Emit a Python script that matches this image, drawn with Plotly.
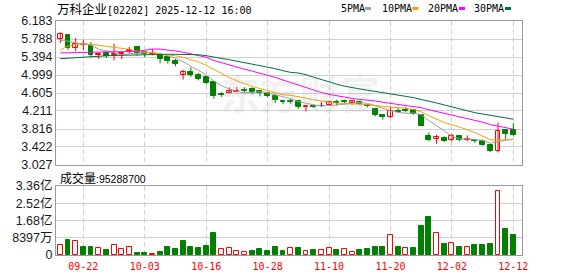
import plotly.graph_objects as go

# ---------------- data ----------------
dates = ["09-17", "09-18", "09-19", "09-22", "09-23", "09-24", "09-25", "09-26", "09-29", "09-30",
         "10-02", "10-03", "10-06", "10-08", "10-09", "10-10", "10-13", "10-14", "10-15", "10-16",
         "10-17", "10-20", "10-21", "10-22", "10-23", "10-24", "10-27", "10-28", "10-30", "10-31",
         "11-03", "11-04", "11-05", "11-06", "11-07", "11-10", "11-11", "11-12", "11-13", "11-14",
         "11-17", "11-18", "11-19", "11-20", "11-21", "11-24", "11-25", "11-26", "11-27", "11-28",
         "12-01", "12-02", "12-03", "12-04", "12-05", "12-08", "12-09", "12-10", "12-11", "12-12"]

opens = [5.795, 5.868, 5.592, 5.65, 5.642, 5.44, 5.48, 5.43, 5.46, 5.52,
         5.61, 5.50, 5.46, 5.44, 5.39, 5.30, 5.006, 5.066, 4.99, 4.947,
         4.838, 4.58, 4.60, 4.62, 4.68, 4.70, 4.64, 4.60, 4.546, 4.42,
         4.44, 4.42, 4.29, 4.33, 4.31, 4.35, 4.41, 4.42, 4.39, 4.40,
         4.35, 4.254, 4.13, 4.08, 4.22, 4.24, 4.24, 4.13, 3.669, 3.60,
         3.62, 3.566, 3.67, 3.566, 3.58, 3.56, 3.472, 3.34, 3.80, 3.785]
closes = [5.899, 5.592, 5.686, 5.67, 5.43, 5.45, 5.41, 5.45, 5.48, 5.55,
          5.48, 5.46, 5.49, 5.36, 5.30, 5.23, 5.066, 4.99, 4.92, 4.82,
          4.531, 4.56, 4.65, 4.65, 4.65, 4.62, 4.60, 4.53, 4.458, 4.40,
          4.41, 4.30, 4.31, 4.30, 4.31, 4.41, 4.39, 4.40, 4.42, 4.37,
          4.31, 4.114, 4.07, 4.22, 4.19, 4.20, 4.15, 3.889, 3.58, 3.63,
          3.545, 3.654, 3.58, 3.596, 3.55, 3.457, 3.34, 3.78, 3.713, 3.676]
highs = [5.934, 5.87, 5.81, 5.77, 5.72, 5.49, 5.53, 5.69, 5.52, 5.61,
         5.64, 5.52, 5.57, 5.44, 5.42, 5.35, 5.116, 5.17, 5.04, 4.96,
         4.87, 4.62, 4.73, 4.74, 4.73, 4.73, 4.66, 4.62, 4.546, 4.458,
         4.48, 4.44, 4.31, 4.35, 4.40, 4.43, 4.458, 4.458, 4.44, 4.44,
         4.36, 4.26, 4.13, 4.31, 4.28, 4.30, 4.26, 4.15, 3.74, 3.69,
         3.654, 3.71, 3.67, 3.676, 3.60, 3.58, 3.49, 3.96, 3.80, 3.947]
lows = [5.70, 5.55, 5.52, 5.54, 5.39, 5.35, 5.37, 5.32, 5.35, 5.48,
        5.42, 5.39, 5.43, 5.26, 5.25, 5.19, 4.90, 4.96, 4.88, 4.79,
        4.48, 4.52, 4.60, 4.62, 4.60, 4.58, 4.53, 4.51, 4.386, 4.36,
        4.37, 4.26, 4.20, 4.28, 4.30, 4.35, 4.33, 4.35, 4.35, 4.34,
        4.29, 4.09, 4.02, 4.06, 4.17, 4.18, 4.13, 3.889, 3.545, 3.49,
        3.53, 3.545, 3.545, 3.545, 3.51, 3.45, 3.31, 3.30, 3.58, 3.67]
volumes = [48700000, 73000000, 70000000, 39000000, 39000000, 32000000, 24000000, 47000000, 29000000, 41000000,
           10000000, 10000000, 5000000, 16000000, 39000000, 29000000, 68000000, 40000000, 35000000, 44000000,
           109000000, 28000000, 32000000, 18000000, 15000000, 19000000, 29000000, 19000000, 39000000, 21000000,
           32000000, 32000000, 19000000, 24000000, 24000000, 32000000, 24000000, 28000000, 15000000, 24000000,
           29000000, 39000000, 39000000, 97000000, 39000000, 32000000, 36000000, 141000000, 185000000, 107000000,
           55000000, 58000000, 39000000, 37000000, 49000000, 49000000, 54000000, 310000000, 127000000, 95288700]

ma5 = [5.76, 5.74, 5.70, 5.67, 5.655, 5.566, 5.529, 5.482, 5.444, 5.468,
       5.474, 5.484, 5.492, 5.468, 5.418, 5.368, 5.289, 5.189, 5.101, 5.005,
       4.865, 4.764, 4.696, 4.642, 4.608, 4.626, 4.634, 4.610, 4.572, 4.522,
       4.480, 4.420, 4.376, 4.344, 4.326, 4.326, 4.344, 4.362, 4.386, 4.398,
       4.378, 4.323, 4.257, 4.217, 4.181, 4.159, 4.166, 4.130, 4.002, 3.890,
       3.759, 3.660, 3.598, 3.601, 3.585, 3.567, 3.505, 3.545, 3.568, 3.593]
ma10 = [5.55, 5.635, 5.668, 5.681, 5.675, 5.65, 5.627, 5.61, 5.59, 5.562,
        5.520, 5.507, 5.487, 5.456, 5.443, 5.421, 5.387, 5.341, 5.285, 5.212,
        5.117, 5.027, 4.943, 4.872, 4.809, 4.748, 4.701, 4.654, 4.608, 4.566,
        4.554, 4.528, 4.493, 4.457, 4.424, 4.404, 4.383, 4.370, 4.366, 4.363,
        4.353, 4.334, 4.310, 4.301, 4.289, 4.268, 4.244, 4.193, 4.109, 4.035,
        3.959, 3.913, 3.864, 3.801, 3.737, 3.663, 3.582, 3.571, 3.585, 3.589]
ma20 = [5.482, 5.488, 5.495, 5.501, 5.504, 5.506, 5.508, 5.510, 5.510, 5.510,
        5.521, 5.543, 5.569, 5.565, 5.550, 5.526, 5.499, 5.460, 5.427, 5.387,
        5.318, 5.267, 5.215, 5.165, 5.125, 5.084, 5.043, 4.997, 4.946, 4.889,
        4.835, 4.777, 4.718, 4.666, 4.616, 4.575, 4.541, 4.512, 4.487, 4.464,
        4.453, 4.431, 4.402, 4.380, 4.357, 4.336, 4.314, 4.282, 4.238, 4.199,
        4.156, 4.124, 4.087, 4.051, 4.013, 3.966, 3.913, 3.882, 3.847, 3.812]
ma30 = [5.357, 5.370, 5.383, 5.396, 5.409, 5.416, 5.420, 5.427, 5.433, 5.440,
        5.444, 5.449, 5.453, 5.455, 5.455, 5.453, 5.453, 5.451, 5.444, 5.422,
        5.396, 5.372, 5.335, 5.302, 5.269, 5.238, 5.208, 5.181, 5.138, 5.094,
        5.057, 5.043, 5.006, 4.951, 4.897, 4.846, 4.798, 4.754, 4.721, 4.688,
        4.666, 4.640, 4.616, 4.590, 4.559, 4.531, 4.502, 4.458, 4.421, 4.386,
        4.344, 4.300, 4.252, 4.206, 4.173, 4.145, 4.118, 4.086, 4.057, 4.031]

price_ticks = [3.027, 3.422, 3.816, 4.211, 4.605, 4.999, 5.394, 5.788, 6.183]
vol_ticks = [0, 83970000, 167940000, 251910000, 335880000]
vol_tick_text = ["0", "8397万", "1.68亿", "2.52亿", "3.36亿"]
date_ticks = ["09-22", "10-03", "10-16", "10-28", "11-10", "11-20", "12-02", "12-12"]
ma_names = ["5PMA", "10PMA", "20PMA", "30PMA"]
title_name = "万科企业"
title_code = "[02202] 2025-12-12 16:00"
vol_label = "成交量"
last_volume = "95288700"

# ---------------- styles ----------------
RED = "#ff0000"
GREEN = "#008000"
BLACK = "#000000"
MA_COLORS = ["#a0a0a0", "#f5a300", "#ff00ff", "#006f3c"]
GRID = "#d0d0d0"
FRAME = "#9a9a9a"
MONO = "DejaVu Sans Mono, Liberation Mono, monospace"
SANS = "Liberation Sans, Arial, Noto Sans CJK SC, sans-serif"
CJK = "Noto Sans CJK SC"

x = list(range(len(dates)))
tick_idx = [dates.index(d) for d in date_ticks]

fig = go.Figure()

# ---- candles: wicks then bodies, grouped by colour ----
groups = {"up": [], "down": [], "flat": []}
for i in x:
    if closes[i] > opens[i]:
        groups["up"].append(i)
    elif closes[i] < opens[i]:
        groups["down"].append(i)
    else:
        groups["flat"].append(i)

style = {
    "up": dict(line=RED, fill="white"),
    "down": dict(line=GREEN, fill=GREEN),
    "flat": dict(line=BLACK, fill=BLACK),
}

for key, idx in groups.items():
    if not idx:
        continue
    wx, wy = [], []
    for i in idx:
        wx += [i, i, None]
        wy += [lows[i], highs[i], None]
    fig.add_trace(go.Scatter(x=wx, y=wy, mode="lines",
                             line=dict(color=style[key]["line"], width=1),
                             hoverinfo="skip", xaxis="x", yaxis="y"))
for key, idx in groups.items():
    if not idx:
        continue
    base = [min(opens[i], closes[i]) for i in idx]
    height = [max(abs(closes[i] - opens[i]), 0.006) for i in idx]
    fig.add_trace(go.Bar(x=idx, y=height, base=base, width=0.64,
                         marker=dict(color=style[key]["fill"],
                                     line=dict(color=style[key]["line"], width=1)),
                         hoverinfo="skip", xaxis="x", yaxis="y"))

# ---- moving averages ----
for series, col in zip([ma5, ma10, ma20, ma30], MA_COLORS):
    fig.add_trace(go.Scatter(x=x, y=series, mode="lines",
                             line=dict(color=col, width=1),
                             hoverinfo="skip", xaxis="x", yaxis="y"))

# ---- volume (colour by change vs previous close) ----
vol_up, vol_dn = [], []
for i in x:
    ref = closes[i - 1] if i > 0 else opens[i]
    (vol_up if closes[i] >= ref else vol_dn).append(i)
fig.add_trace(go.Bar(x=vol_up, y=[volumes[i] for i in vol_up], width=0.64,
                     marker=dict(color="white", line=dict(color=RED, width=1)),
                     hoverinfo="skip", xaxis="x2", yaxis="y2"))
fig.add_trace(go.Bar(x=vol_dn, y=[volumes[i] for i in vol_dn], width=0.64,
                     marker=dict(color=GREEN, line=dict(color=GREEN, width=1)),
                     hoverinfo="skip", xaxis="x2", yaxis="y2"))

# ---------------- layout ----------------
PLOT_TOP, PLOT_BOTTOM = 21, 255
H = PLOT_BOTTOM - PLOT_TOP
L, R = 56, 522
W = R - L


def py(pix):
    return (PLOT_BOTTOM - pix) / H


def px(pix):
    return (pix - L) / W


xr = [-0.56, 60.13]
common_x = dict(range=xr, tickvals=tick_idx, ticktext=date_ticks, showgrid=True,
                gridcolor=GRID, griddash="5px,3px", gridwidth=1, zeroline=False,
                showline=True, linecolor=FRAME, linewidth=1, mirror=True, ticks="",
                fixedrange=True, automargin=False)
common_y = dict(showgrid=True, gridcolor=GRID, gridwidth=1, zeroline=False,
                showline=True, linecolor=FRAME, linewidth=1, mirror=True, ticks="",
                tickfont=dict(family=SANS, size=12.5, color="#1a1a1a"),
                fixedrange=True, automargin=False)

fig.update_layout(
    width=578, height=276,
    margin=dict(l=L, r=578 - R, t=PLOT_TOP, b=276 - PLOT_BOTTOM, autoexpand=False),
    paper_bgcolor="white", plot_bgcolor="white",
    showlegend=False, barmode="overlay", bargap=0,
    xaxis=dict(domain=[0, 1], anchor="y", showticklabels=False, **common_x),
    xaxis2=dict(domain=[0, 1], anchor="y2", matches="x", showticklabels=True,
                tickfont=dict(family=MONO, size=10, color=RED),
                ticklabelstandoff=2, **common_x),
    yaxis=dict(domain=[py(165), 1], anchor="x", range=[price_ticks[0], price_ticks[-1]],
               tickvals=price_ticks, ticktext=[f"{v:.3f}" for v in price_ticks], **common_y),
    yaxis2=dict(domain=[0, py(186)], anchor="x2", range=[vol_ticks[0], vol_ticks[-1]],
                tickvals=vol_ticks, ticktext=vol_tick_text, **common_y),
)

annotations = []
# watermark
annotations.append(dict(xref="paper", yref="paper", x=px(300), y=py(92),
                        xanchor="center", yanchor="middle",
                        text="<b>东方财富</b>", showarrow=False,
                        font=dict(family=CJK, size=40, color="rgba(150,150,150,0.14)")))
# title
annotations.append(dict(xref="paper", yref="paper", x=px(55), y=py(9), xanchor="left",
                        yanchor="middle", showarrow=False,
                        text=f'<span style="font-family:{CJK};font-size:12.5px">{title_name}</span>{title_code}',
                        font=dict(family=MONO, size=10, color="#000000")))
# volume label
annotations.append(dict(xref="paper", yref="paper", x=px(57.5), y=py(177.5), xanchor="left",
                        yanchor="middle", showarrow=False,
                        text=f'<span style="font-family:{CJK};font-size:12px">{vol_label}</span>:{last_volume}',
                        font=dict(family=SANS, size=10.5, color="#000000")))
# legend texts + swatches
legend_text_x = [338.5, 380, 425.5, 471.5]
legend_sw_x = [365, 412.5, 459, 505]
shapes = []
for name, tx, sx, col in zip(ma_names, legend_text_x, legend_sw_x, MA_COLORS):
    annotations.append(dict(xref="paper", yref="paper", x=px(tx), y=py(9), xanchor="left",
                            yanchor="middle", showarrow=False, text=name,
                            font=dict(family=MONO, size=10, color="#000000")))
    shapes.append(dict(type="rect", xref="paper", yref="paper",
                       x0=px(sx), x1=px(sx + 6), y0=py(10), y1=py(7),
                       fillcolor=col, line=dict(width=0)))

fig.update_layout(annotations=annotations, shapes=shapes)

fig.write_html("out.html")
